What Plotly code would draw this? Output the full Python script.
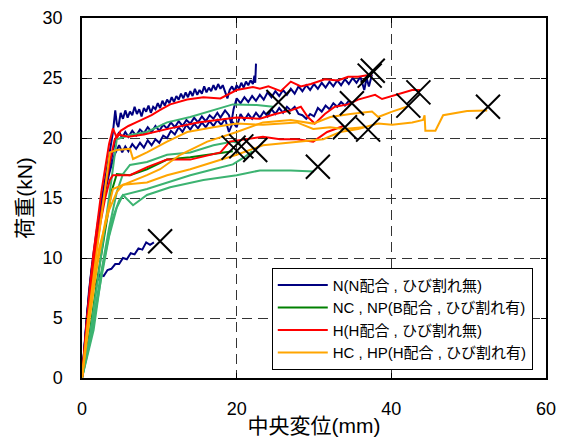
import plotly.graph_objects as go

# ---------------- data ----------------
# N (N配合, ひび割れ無) — navy
N1_x = [0, 0.5, 0.9, 1.3, 1.7, 2.1, 2.5, 3.0, 3.5, 4.0, 4.3, 4.5, 4.7, 5.0, 5.3, 5.6, 5.9, 6.2, 6.5, 6.8,
        7.1, 7.4, 7.7, 8.0, 8.3, 8.6, 8.9, 9.2, 9.5, 9.8, 10.1, 10.4, 10.7, 11.0, 11.3, 11.6, 11.9, 12.2, 12.5, 12.8,
        13.1, 13.4, 13.7, 14.0, 14.3, 14.6, 14.9, 15.2, 15.5, 15.8, 16.1, 16.4, 16.7, 17.0, 17.3, 17.6, 17.9, 18.2, 18.5, 18.8,
        19.1, 19.4, 19.7, 20.0, 20.3, 20.6, 20.9, 21.2, 21.5, 21.8, 22.1, 22.3, 22.4, 22.5]
N1_y = [0, 4.0, 7.2, 9.5, 11.6, 13.2, 14.7, 16.5, 18.5, 20.5, 22.3, 21.2, 20.9, 22.1, 21.6, 22.3, 21.7, 22.2, 21.9, 22.6,
        22.0, 22.4, 21.8, 22.5, 22.2, 22.7, 22.1, 22.6, 22.4, 22.9, 22.5, 23.1, 22.7, 23.2, 22.9, 23.4, 23.0, 23.5, 23.2, 23.7,
        23.3, 23.8, 23.4, 23.9, 23.5, 24.1, 23.6, 24.0, 23.7, 24.3, 23.8, 24.2, 23.9, 24.4, 24.0, 24.5, 24.1, 24.4, 23.9, 23.3,
        24.0, 24.3, 23.9, 24.4, 24.1, 24.6, 24.2, 24.7, 24.4, 24.8, 24.5, 25.2, 24.6, 26.2]
N2_x = [0, 0.6, 1.2, 1.8, 2.4, 3.0, 3.6, 4.2, 4.8, 5.2, 5.6, 6.0, 6.5, 7.0, 7.5, 8.0, 8.5, 9.0, 9.5, 10.0,
        10.5, 11.0, 11.5, 12.0, 12.5, 13.0, 13.5, 14.0, 14.5, 15.0, 15.5, 16.0, 16.5, 17.0, 17.5, 17.9, 18.5, 19.0, 19.3, 19.6,
        20.0, 20.5, 21.0, 21.5, 22.0, 22.5, 23.0, 23.5, 24.0, 24.5, 25.0, 25.5, 26.0, 26.5, 27.0, 27.5, 28.0, 28.5, 29.0, 29.5,
        30.0, 30.5, 31.0, 31.5, 32.0, 32.5, 33.0, 33.5, 34.0, 34.5, 35.0, 35.5, 36.0, 36.5, 36.8, 37.1, 37.5]
N2_y = [0, 5.0, 8.8, 11.5, 13.8, 15.8, 17.8, 19.5, 20.5, 20.0, 20.5, 20.1, 20.6, 20.2, 20.7, 20.4, 20.9, 20.5, 21.0, 20.6,
        21.1, 20.8, 21.3, 20.9, 21.4, 21.0, 21.5, 21.2, 21.7, 21.3, 21.8, 21.4, 21.9, 21.6, 22.1, 21.7, 22.3, 21.9, 21.2, 22.4,
        23.3, 22.9, 23.4, 23.0, 23.5, 23.1, 23.6, 23.2, 23.8, 23.4, 23.9, 23.5, 24.0, 23.6, 24.1, 23.7, 24.3, 23.9, 24.4, 24.0,
        24.5, 24.1, 24.6, 24.2, 24.7, 24.3, 24.8, 24.4, 24.9, 24.5, 25.0, 24.6, 25.1, 24.0, 25.0, 24.3, 25.3]
N3_x = [0, 0.7, 1.4, 2.1, 2.8, 3.5, 4.2, 4.8, 5.2, 5.6, 6.0, 6.5, 7.0, 7.5, 8.0, 8.5, 9.0, 9.5, 10.0, 10.5,
        11.0, 11.5, 12.0, 12.5, 13.0, 13.5, 14.0, 14.5, 15.0, 15.5, 16.0, 16.5, 17.0, 17.5, 18.0, 18.5, 19.0, 19.5, 20.0, 20.5,
        21.0, 21.5, 22.0, 22.5, 23.0, 23.5, 24.0, 24.5, 25.0, 25.5, 26.0, 26.5, 27.0, 27.5, 28.0, 28.5, 29.0, 29.5, 30.0, 30.5,
        31.0, 31.5, 32.0, 32.5, 33.0, 33.5, 34.0, 34.5, 34.9]
N3_y = [0, 5.5, 9.5, 12.5, 15.0, 17.0, 18.6, 19.4, 18.8, 19.3, 18.9, 19.5, 19.1, 19.6, 19.2, 19.8, 19.4, 19.9, 19.6, 20.2,
        20.0, 20.6, 20.3, 20.9, 20.5, 21.1, 20.7, 21.2, 20.8, 21.3, 20.9, 21.4, 21.0, 21.5, 21.1, 21.6, 20.5, 21.3, 20.9, 22.0,
        21.5, 22.0, 21.6, 22.1, 21.7, 22.2, 21.8, 22.4, 22.0, 22.5, 22.1, 22.6, 22.3, 22.6, 22.0, 21.9, 21.6, 22.0, 21.8, 22.5,
        22.2, 22.7, 22.4, 22.9, 22.6, 23.0, 22.7, 23.1, 22.9]
N4_x = [0, 0.5, 1.0, 1.5, 1.9, 2.3, 2.8, 3.3, 3.8, 4.3, 4.8, 5.3, 5.8, 6.3, 6.8, 7.3, 7.8, 8.3, 8.8, 9.3]
N4_y = [0, 3.5, 6.0, 7.6, 8.0, 8.6, 8.5, 9.0, 9.1, 9.5, 9.5, 10.0, 9.9, 10.4, 10.3, 10.8, 10.7, 11.3, 11.1, 11.3]

# NC, NP (B配合, ひび割れ有) — greens
G1_x = [0, 1.0, 2.0, 3.0, 3.8, 4.5, 6.2, 8.4, 11.0, 14.0, 17.0, 19.5, 22.6, 24.7]
G1_y = [0, 3.5, 8.0, 12.5, 16.5, 19.9, 20.25, 20.5, 21.3, 21.75, 22.3, 22.8, 22.75, 22.6]
G2_x = [0, 1.0, 2.0, 3.0, 3.8, 4.5, 6.2, 8.4, 11.0, 14.0, 17.0, 19.5]
G2_y = [0, 3.8, 8.3, 12.5, 15.5, 17.0, 16.9, 17.4, 18.2, 18.4, 18.7, 18.9]
G3_x = [0, 1.2, 2.4, 3.5, 4.5, 5.3, 6.2, 8.4, 11.0, 14.0, 17.0, 19.5, 20.5]
G3_y = [0, 3.8, 8.5, 12.5, 15.5, 17.0, 17.75, 18.0, 18.6, 18.8, 19.4, 19.7, 19.5]
G4_x = [0, 1.2, 2.4, 3.5, 4.5, 5.3, 8.4, 11.0, 14.0, 17.0, 19.5, 21.0, 22.0]
G4_y = [0, 3.5, 8.0, 11.8, 14.2, 15.25, 15.75, 16.3, 16.9, 17.4, 17.8, 18.4, 18.9]
G5_x = [0, 1.5, 2.6, 3.9, 4.8, 5.3, 6.6, 8.4, 11.4, 15.7, 20.0, 23.0, 27.0, 30.0]
G5_y = [0, 4.0, 9.0, 13.2, 14.8, 15.25, 14.4, 15.25, 15.9, 16.5, 16.9, 17.3, 17.3, 17.2]

# H (H配合, ひび割れ無) — red
R1_x = [0, 0.5, 1.0, 1.5, 2.0, 2.5, 3.0, 3.5, 4.0, 4.5, 5.0, 6, 7, 8, 9, 10, 11.4, 13.6, 15.7, 17.9, 20, 22.1, 23, 24.1, 25.7, 27, 28.3, 29.6, 31.4, 33.1, 34.4, 35.7, 37.5]
R1_y = [0, 4.0, 7.5, 10.5, 13.0, 15.5, 17.5, 19.5, 20.8, 20.0, 20.6, 21.0, 21.3, 21.6, 21.9, 22.3, 22.8, 23.2, 23.4, 23.3, 24.0, 24.25, 24.1, 24.3, 23.9, 24.7, 24.3, 24.5, 24.9, 24.8, 25.1, 25.1, 25.3]
R2_x = [0, 0.6, 1.2, 1.8, 2.4, 3.0, 3.6, 4.2, 4.6, 6.0, 8.0, 11.4, 15.0, 20.0, 23.0, 25.0, 27.0, 28.3, 29.2, 30.1, 31.4, 32.7, 34.4, 35.7, 37.9, 38.8, 40.5, 42.7, 43.7]
R2_y = [0, 4.5, 8.0, 11.0, 13.5, 15.8, 18.0, 19.8, 20.3, 20.1, 20.3, 20.8, 21.3, 21.7, 21.6, 22.0, 22.3, 22.6, 21.75, 21.2, 22.0, 22.6, 22.8, 23.2, 23.6, 23.25, 23.6, 24.0, 24.0]
R3_x = [0, 0.6, 1.2, 1.8, 2.4, 3.0, 3.6, 4.0, 6.2, 8.5, 11.0, 14.0, 17.9, 19.1, 21.3, 23.4, 25.6, 27.8, 29.9, 31.7, 33.8]
R3_y = [0, 4.0, 7.5, 10.5, 13.0, 15.0, 16.5, 16.9, 16.9, 17.6, 18.2, 18.2, 18.8, 19.7, 19.9, 20.1, 19.9, 19.9, 19.7, 20.5, 21.0]

# HC, HP (H配合, ひび割れ有) — orange
O1_x = [0, 0.9, 2.2, 3.5, 4.5, 5.3, 8.4, 11.0, 14.0, 17.0, 20.0, 23.4, 27.8, 31.2, 33.4, 35.7, 38.3, 40.1, 42.7, 44.1, 44.3, 44.4, 45.7, 46.7, 49.8, 52.4]
O1_y = [0, 5.25, 10.75, 14.0, 15.5, 16.1, 16.3, 16.9, 17.4, 18.0, 18.6, 19.4, 19.7, 19.9, 20.5, 20.75, 21.2, 21.1, 21.3, 21.5, 21.9, 20.6, 20.6, 21.9, 22.25, 22.3]
O2_x = [0, 1.0, 2.0, 3.0, 4.0, 6.2, 8.4, 10.1, 12.7, 16.2, 18.8, 20.0, 23.4, 27.0, 29.9, 32.1, 34.7, 37.5, 38.3, 40.1, 42.0]
O2_y = [0, 5.0, 9.5, 13.0, 15.75, 16.3, 16.9, 17.4, 18.6, 19.7, 20.25, 20.5, 21.3, 21.5, 21.2, 21.75, 22.0, 22.2, 21.75, 22.2, 22.6]
O3_x = [0, 0.8, 1.8, 2.8, 3.6, 4.5, 6.2, 6.6, 8.4, 11.0, 13.6, 17.0, 20.0, 23.4, 27.8, 29.9, 32.1, 33.8, 36.4]
O3_y = [0, 5.0, 10.0, 15.0, 18.8, 19.0, 19.1, 18.25, 18.8, 19.7, 20.5, 20.9, 21.2, 21.1, 21.3, 20.75, 20.9, 20.75, 20.9]

# failure points (×)
break_x = [10.1, 37.2, 37.6, 34.9, 25.4, 19.6, 20.6, 22.4, 30.5, 43.5, 42.2, 52.5, 37.0, 34.0]
break_y = [11.4, 25.2, 25.6, 22.9, 23.0, 19.2, 19.3, 19.0, 17.6, 23.8, 22.7, 22.6, 20.7, 20.9]

x_ticks = [0, 20, 40, 60]
y_ticks = [0, 5, 10, 15, 20, 25, 30]

# ---------------- figure ----------------
NAVY, GREEN, SEA, RED, ORANGE = "#000080", "#008000", "#3CB371", "#FF0000", "#FFA500"
series = [
    (N1_x, N1_y, NAVY, "N(N配合 , ひび割れ無)", True),
    (N2_x, N2_y, NAVY, None, False),
    (N3_x, N3_y, NAVY, None, False),
    (N4_x, N4_y, NAVY, None, False),
    (G2_x, G2_y, GREEN, "NC , NP(B配合 , ひび割れ有)", True),
    (G1_x, G1_y, SEA, None, False),
    (G3_x, G3_y, SEA, None, False),
    (G4_x, G4_y, SEA, None, False),
    (G5_x, G5_y, SEA, None, False),
    (R1_x, R1_y, RED, "H(H配合 , ひび割れ無)", True),
    (R2_x, R2_y, RED, None, False),
    (R3_x, R3_y, RED, None, False),
    (O1_x, O1_y, ORANGE, "HC , HP(H配合 , ひび割れ有)", True),
    (O2_x, O2_y, ORANGE, None, False),
    (O3_x, O3_y, ORANGE, None, False),
]
legend_rank = {NAVY: 1, GREEN: 2, SEA: 2, RED: 3, ORANGE: 4}

fig = go.Figure()
for xs, ys, col, name, show in series:
    fig.add_trace(go.Scatter(
        x=xs, y=ys, mode="lines", name=name or "", showlegend=show,
        legendrank=legend_rank[col],
        line=dict(color=col, width=2), hoverinfo="skip"))

fig.add_trace(go.Scatter(
    x=break_x, y=break_y, mode="markers", showlegend=False,
    marker=dict(symbol="x-thin", size=24, color="black",
                line=dict(color="black", width=2))))

FONT = "Liberation Sans, Arial, Noto Sans CJK JP"
axis_common = dict(
    showline=True, linecolor="black", linewidth=1.5, mirror="ticks",
    ticks="inside", ticklen=5, tickcolor="black", automargin=False,
    ticklabeloverflow="allow",
    showgrid=True, gridcolor="#333333", gridwidth=1, griddash="10px,6px",
    zeroline=False, tickfont=dict(size=18, color="black", family=FONT),
)
fig.update_xaxes(range=[0, 60], tickvals=x_ticks, ticklabelstandoff=14,
                 title=dict(text="中央変位(mm)", font=dict(size=21, color="black", family=FONT), standoff=0),
                 **axis_common)
fig.update_yaxes(range=[0, 30], tickvals=y_ticks, ticklabelstandoff=14,
                 title=dict(text="荷重(kN)", font=dict(size=21, color="black", family=FONT), standoff=4),
                 **axis_common)

fig.update_layout(
    width=568, height=443,
    margin=dict(l=74, r=30, t=10, b=73),
    paper_bgcolor="white", plot_bgcolor="white",
    font=dict(family=FONT, color="black"),
    showlegend=True,
    legend=dict(x=0.409, y=0.306, xanchor="left", yanchor="top",
                bgcolor="white", bordercolor="black", borderwidth=1,
                font=dict(size=15, color="black", family=FONT),
                itemwidth=50, tracegroupgap=0, traceorder="normal"),
)

fig.write_html("out.html")
